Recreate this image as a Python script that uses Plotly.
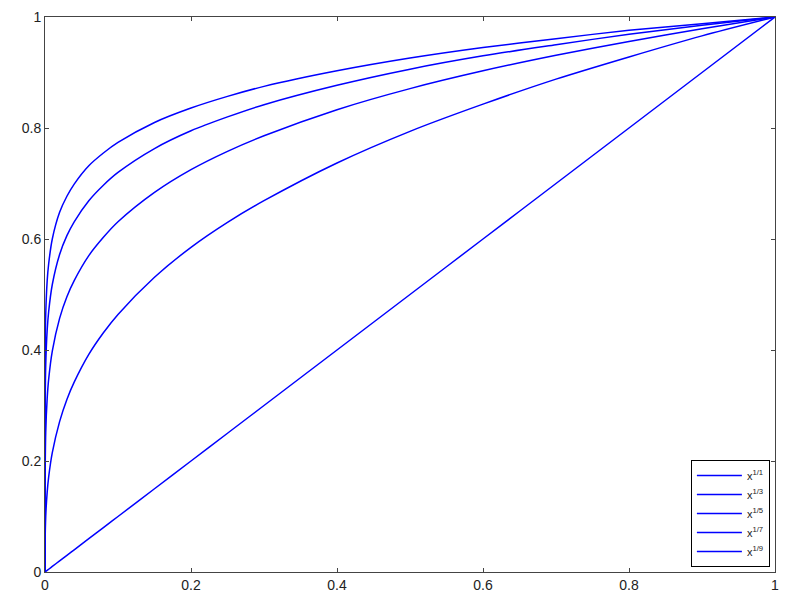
import plotly.graph_objects as go

# sample positions along x (dense near 0 where the roots are steep)
x_vals = [0, 0.0001, 0.001, 0.003, 0.005, 0.01, 0.02, 0.03, 0.04, 0.06, 0.08,
          0.1, 0.15, 0.2, 0.25, 0.3, 0.4, 0.5, 0.6, 0.7, 0.8, 0.9, 1.0]

y_root1 = [0, 0.0001, 0.001, 0.003, 0.005, 0.01, 0.02, 0.03, 0.04, 0.06, 0.08,
           0.1, 0.15, 0.2, 0.25, 0.3, 0.4, 0.5, 0.6, 0.7, 0.8, 0.9, 1.0]
y_root3 = [0, 0.046, 0.100, 0.144, 0.171, 0.215, 0.271, 0.311, 0.342, 0.392, 0.431,
           0.464, 0.531, 0.585, 0.630, 0.669, 0.737, 0.794, 0.843, 0.888, 0.928, 0.966, 1.0]
y_root5 = [0, 0.158, 0.251, 0.313, 0.347, 0.398, 0.457, 0.496, 0.525, 0.570, 0.603,
           0.631, 0.684, 0.725, 0.758, 0.786, 0.833, 0.871, 0.903, 0.931, 0.956, 0.979, 1.0]
y_root7 = [0, 0.268, 0.373, 0.436, 0.469, 0.518, 0.572, 0.606, 0.631, 0.669, 0.697,
           0.720, 0.763, 0.795, 0.820, 0.842, 0.877, 0.906, 0.930, 0.950, 0.969, 0.985, 1.0]
y_root9 = [0, 0.359, 0.464, 0.525, 0.555, 0.600, 0.648, 0.677, 0.699, 0.732, 0.755,
           0.774, 0.810, 0.836, 0.857, 0.875, 0.903, 0.926, 0.945, 0.961, 0.976, 0.988, 1.0]

labels = ["x<sup>1/1</sup>", "x<sup>1/3</sup>", "x<sup>1/5</sup>",
          "x<sup>1/7</sup>", "x<sup>1/9</sup>"]
series = [y_root1, y_root3, y_root5, y_root7, y_root9]

fig = go.Figure()
for name, ys in zip(labels, series):
    fig.add_trace(go.Scatter(x=x_vals, y=ys, mode="lines", name=name,
                             line=dict(color="#0000ff", width=1.5, shape="spline", smoothing=0.8)))

axis_style = dict(range=[0, 1], dtick=0.2, showgrid=False, zeroline=False,
                  showline=True, linecolor="#444444", linewidth=1, mirror="ticks",
                  ticks="inside", ticklen=4, tickcolor="#444444", automargin=False,
                  tickfont=dict(family="Liberation Sans", size=14, color="#222222"))

fig.update_xaxes(**axis_style)
fig.update_yaxes(**axis_style)
fig.update_xaxes(tickformat="~g")
fig.update_yaxes(tickformat="~g")

# the page adds an 8px body margin, so the margins are shifted to compensate
fig.update_layout(
    width=800, height=600,
    margin=dict(l=37, r=33, t=9, b=36),
    plot_bgcolor="white", paper_bgcolor="white",
    legend=dict(x=0.993, y=0.009, xanchor="right", yanchor="bottom",
                bordercolor="black", borderwidth=1, bgcolor="white",
                font=dict(family="Liberation Sans", size=11, color="#222222"),
                tracegroupgap=0, itemwidth=45),
)

fig.write_html("out.html")
